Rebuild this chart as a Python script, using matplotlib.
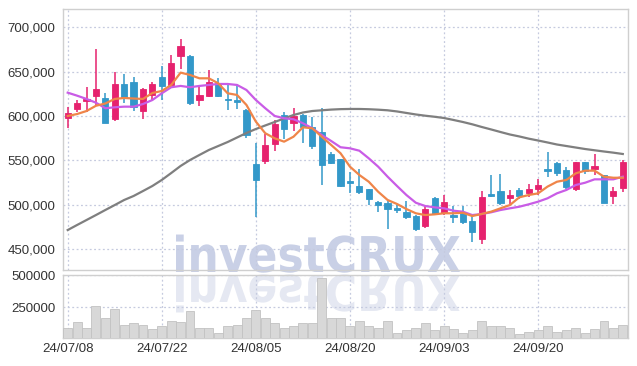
import matplotlib
matplotlib.use("Agg")
import matplotlib.pyplot as plt
import matplotlib.ticker as mticker
from matplotlib.textpath import TextPath
from matplotlib.patches import PathPatch
from matplotlib.font_manager import FontProperties
from matplotlib.transforms import Affine2D

# trading days
dates = ["24/07/08", "24/07/09", "24/07/10", "24/07/11", "24/07/12", "24/07/15", "24/07/16", "24/07/17",
         "24/07/18", "24/07/19", "24/07/22", "24/07/23", "24/07/24", "24/07/25", "24/07/26", "24/07/29",
         "24/07/30", "24/07/31", "24/08/01", "24/08/02", "24/08/05", "24/08/06", "24/08/07", "24/08/08",
         "24/08/09", "24/08/12", "24/08/13", "24/08/14", "24/08/16", "24/08/19", "24/08/20", "24/08/21",
         "24/08/22", "24/08/23", "24/08/26", "24/08/27", "24/08/28", "24/08/29", "24/08/30", "24/09/02",
         "24/09/03", "24/09/04", "24/09/05", "24/09/06", "24/09/09", "24/09/10", "24/09/11", "24/09/12",
         "24/09/13", "24/09/19", "24/09/20", "24/09/23", "24/09/24", "24/09/25", "24/09/26", "24/09/27",
         "24/09/30", "24/10/02", "24/10/04", "24/10/07"]

opens = [597900, 608100, 617100, 622800, 620200, 596800, 636000, 638300, 605900, 623600,
         644200, 634900, 668000, 667600, 618300, 622800, 637500, 619100, 617900, 606700,
         545700, 549400, 567900, 601000, 591600, 601000, 587100, 581800, 557000, 551000,
         526500, 520900, 517500, 503200, 502000, 496000, 491900, 487000, 476100, 507000,
         490700, 488100, 490000, 481400, 461400, 511800, 515200, 507000, 516400, 512600,
         517500, 540100, 546500, 538900, 517100, 547600, 540100, 533300, 509600, 518300]
highs = [610400, 617900, 632300, 675200, 625500, 649900, 647000, 644200, 631000, 638600,
         656300, 668700, 686800, 668600, 634900, 651800, 642400, 636000, 634900, 607500,
         569100, 579600, 595400, 604700, 608600, 602100, 599100, 608600, 559600, 551500,
         537000, 539700, 517900, 503600, 503900, 499400, 504300, 488100, 498300, 508800,
         510700, 498300, 498300, 488100, 515600, 533300, 534100, 516400, 518300, 522800,
         528400, 559600, 548300, 542000, 548000, 548000, 556700, 533800, 520100, 550200]
lows = [586000, 604400, 604700, 611200, 591700, 594200, 614900, 605500, 596200, 617900,
        617900, 633000, 652600, 612000, 611200, 621700, 621700, 606700, 607500, 574700,
        486200, 545700, 560700, 573600, 583300, 569100, 562300, 522000, 545700, 519400,
        513300, 511500, 499400, 491900, 471900, 490700, 483300, 470400, 473800, 488100,
        488100, 479500, 478000, 458000, 455400, 508100, 499400, 500600, 505900, 508800,
        510700, 531400, 532200, 517800, 515200, 534400, 533300, 501400, 500600, 514400]
closes = [602900, 614900, 619100, 630400, 592300, 636000, 619900, 610400, 630400, 636000,
          633800, 659700, 678900, 614200, 623600, 637900, 622800, 617500, 616000, 578100,
          527700, 567200, 590900, 585600, 599900, 587100, 566400, 544600, 547200, 520900,
          524600, 514100, 506200, 499400, 494900, 493800, 485600, 472000, 494600, 489300,
          502500, 486200, 480600, 469300, 508100, 509900, 501400, 510700, 509900, 517500,
          522000, 538200, 535200, 519400, 547600, 538200, 543500, 502000, 515200, 547600]
volumes = [87500, 134000, 87500, 262000, 165000, 234500, 118000, 126000, 118000, 80000,
           105000, 149000, 134000, 219000, 87500, 87500, 56500, 110000, 118000, 165000,
           227000, 165000, 126000, 95000, 103000, 126000, 126000, 474000, 165000, 165000,
           110000, 141600, 103000, 95000, 141600, 56500, 72000, 87500, 126000, 72000,
           110000, 80000, 56500, 72000, 141600, 103000, 103000, 87500, 48800, 64000,
           72000, 103000, 64000, 72000, 87500, 56500, 80000, 149000, 87500, 118000]

ma5 = [599900, 602100, 605500, 611400, 614000, 619100, 620200, 619600, 619100, 625800,
       628100, 634900, 648800, 646200, 642400, 642400, 636800, 625500, 623600, 612300,
       593500, 580400, 574700, 570900, 576500, 587100, 586000, 576500, 567200, 557800,
       542700, 533300, 525700, 514400, 505100, 500600, 494900, 490100, 488100, 488900,
       490100, 490100, 490700, 487000, 489300, 491900, 495700, 499400, 508100, 510700,
       512600, 520200, 525700, 527700, 535200, 538200, 538200, 531400, 530200, 530200]
ma20 = [626200, 622800, 619100, 614900, 608600, 609700, 610400, 610400, 613400, 617900,
        625500, 632300, 633800, 632300, 633800, 634900, 636000, 636000, 634900, 629200,
        617900, 608600, 599900, 597300, 596200, 591700, 586000, 578400, 571700, 564600,
        563400, 560700, 552100, 542700, 531400, 520900, 510700, 502000, 498300, 496800,
        495700, 493000, 491900, 488100, 489300, 491200, 493800, 495700, 497500, 500200,
        503200, 507000, 512600, 516400, 522000, 524600, 528400, 528400, 528400, 531400]
ma60 = [471200, 476900, 482500, 488100, 493800, 499400, 505100, 509600, 515200, 520900,
        527700, 535500, 543500, 550200, 555900, 561500, 566000, 570500, 575600, 580700,
        585200, 589200, 593100, 597100, 601000, 603800, 605500, 606300, 607100, 607600,
        607800, 607800, 607500, 607000, 606300, 605000, 603300, 601600, 600200, 599000,
        597600, 595400, 593100, 590500, 587500, 584700, 581800, 579000, 576800, 574300,
        572200, 570000, 567700, 566000, 564300, 562600, 561200, 559800, 558500, 557000]

UP = "#e6226e"
DOWN = "#3398c9"
GRID = "#c5cadf"
TXT = "#333333"

W, H = 637, 366
fig = plt.figure(figsize=(W / 100, H / 100), dpi=100)
fig.patch.set_facecolor("white")

ax1 = fig.add_axes([63 / W, (H - 270) / H, 564.5 / W, 261 / H])
ax2 = fig.add_axes([63 / W, (H - 337.5) / H, 564.5 / W, 62.5 / H], sharex=ax1)

x = list(range(len(dates)))
up_col = [UP if c >= o else DOWN for o, c in zip(opens, closes)]

# watermark, with a faded mirror image under it
prop = FontProperties(family="DejaVu Sans", weight="bold")
tp = TextPath((0, 0), "investCRUX", prop=prop, size=1)
ext = tp.get_extents()
sx = 284 / ext.width
sy = 36 / 0.73
wm = Affine2D().translate(-ext.x0, 0).scale(sx / W, sy / H).translate(176 / W, (H - 272) / H)
fig.add_artist(PathPatch(tp, transform=wm + fig.transFigure, color="#c9d0e6", lw=0, zorder=-1))
wm2 = Affine2D().translate(-ext.x0, 0).scale(sx / W, -sy / H).translate(176 / W, (H - 275) / H)
fig.add_artist(PathPatch(tp, transform=wm2 + fig.transFigure, color="#e5e8f2", lw=0, zorder=-1))

for ax in (ax1, ax2):
    ax.set_facecolor("none")
    for s in ax.spines.values():
        s.set_color("#cfcfcf")
        s.set_linewidth(1)
    ax.grid(True, color=GRID, linestyle=(0, (1.5, 2)), linewidth=0.9)
    ax.set_axisbelow(True)
    ax.tick_params(length=0, labelsize=9.5, colors=TXT)

# candles
ax1.vlines(x, lows, highs, colors=up_col, linewidth=1.1, zorder=3)
ax1.bar(x, [c - o for o, c in zip(opens, closes)], bottom=opens, width=0.66,
        color=up_col, edgecolor=up_col, linewidth=0.6, zorder=4)
ax1.plot(x, ma60, color="#7f7f7f", lw=1.6, zorder=5)
ax1.plot(x, ma20, color="#c95ce6", lw=1.6, zorder=5)
ax1.plot(x, ma5, color="#ef8549", lw=1.6, zorder=5)

ax1.set_ylim(426100, 720600)
ax1.set_xlim(-0.5, 59.5)
ax1.yaxis.set_major_locator(mticker.FixedLocator([450000, 500000, 550000, 600000, 650000, 700000]))
ax1.yaxis.set_major_formatter(mticker.FuncFormatter(lambda v, p: f"{int(v):,}"))
ax1.tick_params(axis="y", pad=5.5)
ax1.tick_params(axis="x", labelbottom=False)

# volume
ax2.bar(x, volumes, width=0.95, color="#d8d8d8", edgecolor="#c2c2c2", linewidth=0.6, zorder=3)
ax2.set_ylim(18000, 500000)
ax2.yaxis.set_major_locator(mticker.FixedLocator([250000, 500000]))
ax2.yaxis.set_major_formatter(mticker.FuncFormatter(lambda v, p: f"{int(v)}"))
ax2.tick_params(axis="y", pad=5.5)
ax2.set_xticks(x[::10])
ax2.set_xticklabels(dates[::10])
ax2.tick_params(axis="x", pad=4)

for ax in (ax1, ax2):
    for lb in ax.get_yticklabels() + ax.get_xticklabels():
        lb.set_family("Liberation Sans")

fig.savefig("out.png", dpi=100)
